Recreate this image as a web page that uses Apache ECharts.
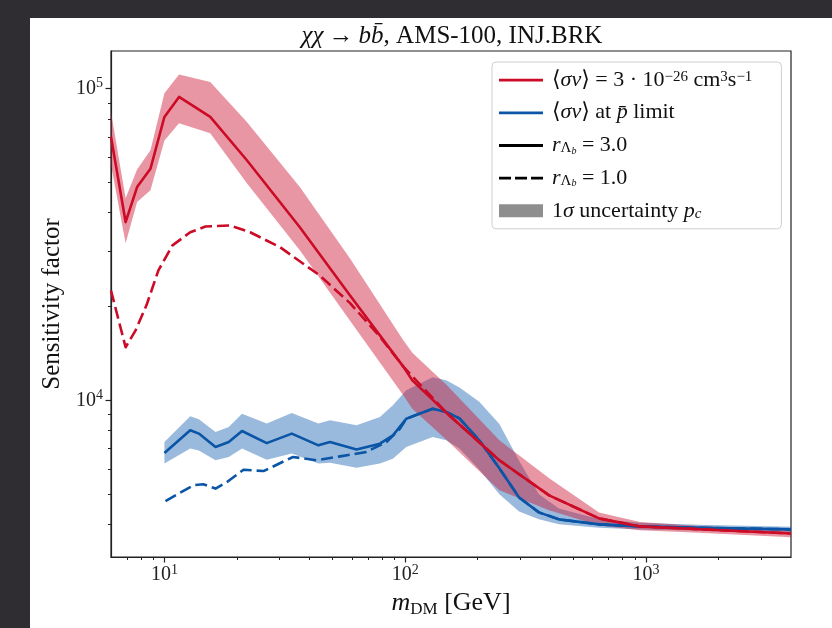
<!DOCTYPE html>
<html><head><meta charset="utf-8">
<script src="https://cdn.jsdelivr.net/npm/echarts@6/dist/echarts.min.js"></script>
<style>
html,body{margin:0;padding:0;background:#2f2d32;width:832px;height:628px;overflow:hidden;}
#panel{position:absolute;left:30px;top:18px;width:802px;height:610px;background:#ffffff;}
#chart{position:absolute;left:0;top:0;width:832px;height:628px;}
</style></head><body>
<div id="panel"></div>
<div id="chart"></div>
<script>
// ---- data ----
const redMass  = [6.0, 6.9, 7.7, 8.75, 10, 11.5, 15.5, 22, 36.5, 59, 98, 107, 149, 246, 396, 638, 944, 1657, 4000];
const redSolid = [70000, 37300, 48300, 55300, 81100, 94000, 81100, 58900, 35900, 21700, 12850, 11590, 9085, 6420, 4955, 4180, 3940, 3860, 3740];
const redUpper = [84000, 44500, 55000, 63400, 96600, 111000, 105000, 78200, 48300, 28500, 15600, 14200, 11170, 7440, 5620, 4370, 4070, 3950, 3830];
const redLower = [57000, 31900, 43300, 47200, 68200, 77400, 71900, 49700, 30300, 18000, 10400, 9400, 7440, 5150, 4440, 3970, 3830, 3760, 3640];

const redDashMass = [6.0, 6.9, 7.59, 8.42, 9.44, 10.8, 12.8, 14.8, 18.7, 22.7, 30.2, 44, 59, 78.5, 98, 149, 246, 396, 638, 944, 1657, 4000];
const redDash     = [22500, 14800, 16770, 20170, 26100, 31400, 34600, 36100, 36400, 34600, 31000, 25200, 20500, 16000, 12850, 9085, 6420, 4955, 4180, 3940, 3860, 3740];

const blueMass  = [10, 12.8, 13.9, 16.3, 18.5, 21, 26.6, 33.8, 43.6, 48.7, 62.8, 78.5, 88.9, 101, 130, 148, 168, 203, 246, 297, 359, 435, 638, 944, 1657, 4000];
const blueSolid = [6780, 8014, 7820, 7080, 7350, 7970, 7290, 7820, 7170, 7350, 6950, 7260, 7720, 8730, 9400, 9170, 8750, 7440, 6050, 4880, 4370, 4150, 4000, 3940, 3900, 3855];
const blueUpper = [7350, 8890, 8700, 7910, 8210, 9060, 8420, 9100, 8420, 8630, 8310, 8840, 9640, 10770, 11850, 11590, 11000, 9900, 8400, 6400, 5000, 4500, 4150, 4050, 3990, 3930];
const blueLower = [6270, 7000, 6900, 6420, 6580, 7000, 6450, 6750, 6270, 6300, 6080, 6270, 6500, 7080, 7620, 7440, 7000, 6000, 5000, 4400, 4150, 4000, 3900, 3850, 3820, 3780];

const blueDashMass = [10.1, 13.2, 14.5, 16.3, 18.2, 21.3, 25.8, 34.2, 42.8, 53.7, 69, 83.6, 95, 101, 130, 148, 168, 203, 246, 297, 359, 435, 638, 944, 1657, 4000];
const blueDash     = [4750, 5340, 5380, 5210, 5470, 5990, 5930, 6580, 6420, 6610, 6830, 7350, 8100, 8730, 9400, 9170, 8750, 7440, 6050, 4880, 4370, 4150, 4000, 3940, 3900, 3855];

const xMajorTicks = [10, 100, 1000];
const xMinorTicks = [7, 8, 9, 20, 30, 40, 50, 60, 70, 80, 90, 200, 300, 400, 500, 600, 700, 800, 900, 2000, 3000];
const yMajorTicks = [10000, 100000];
const yMinorTicks = [4000, 5000, 6000, 7000, 8000, 9000, 20000, 30000, 40000, 50000, 60000, 70000, 80000, 90000];

// ---- styling ----
const SERIF = '"Liberation Serif", "DejaVu Serif", serif';
const RED = '#cc0b26';
const RED_BAND = 'rgba(205,22,50,0.45)';
const BLUE = '#0a55a5';
const BLUE_BAND = 'rgba(29,101,177,0.45)';
const AX = '#222222';

// legend handle shapes (44 x 13 box)
const ICON_SOLID = 'path://M0,0h0.01v0.01h-0.01z M0,5.2h44v2.8h-44z M43.99,12.99h0.01v0.01h-0.01z';
const ICON_DASH  = 'path://M0,0h0.01v0.01h-0.01z M0,5.2h12v2.8h-12z M16,5.2h12v2.8h-12z M32,5.2h12v2.8h-12z M43.99,12.99h0.01v0.01h-0.01z';

function pairs(xs, ys) { return xs.map((x, i) => [x, ys[i]]); }

function band(mass, lower, upper, fill, z) {
  return {
    type: 'custom', coordinateSystem: 'cartesian2d', clip: true, silent: true, z: z,
    data: mass.map((m, i) => [m, lower[i], upper[i]]),
    encode: { x: 0, y: [1, 2] },
    renderItem: function (params, api) {
      if (params.dataIndex !== 0) return null;
      const pts = [];
      for (let i = 0; i < mass.length; i++) pts.push(api.coord([mass[i], upper[i]]));
      for (let i = mass.length - 1; i >= 0; i--) pts.push(api.coord([mass[i], lower[i]]));
      return { type: 'polygon', shape: { points: pts }, style: { fill: fill, stroke: null } };
    }
  };
}

function line(name, xs, ys, color, dashed, z) {
  return {
    name: name, type: 'line', data: pairs(xs, ys), symbol: 'none', showSymbol: false,
    silent: true, z: z, clip: true,
    lineStyle: { color: color, width: 2.6, type: dashed ? [12, 5] : 'solid', cap: 'butt', join: 'round' }
  };
}

function legendDummy(name, color) {
  return {
    name: name, type: 'line', data: [], symbol: 'none', color: color,
    lineStyle: { color: color, width: 3 }, itemStyle: { color: color }
  };
}

const tickRich = {
  b: { fontFamily: SERIF, fontSize: 20, color: '#222', lineHeight: 24 },
  s: { fontFamily: SERIF, fontSize: 14, color: '#222', lineHeight: 14, verticalAlign: 'top' }
};
function powFmt(v) {
  const e = Math.round(Math.log10(v));
  return '{b|10}{s|' + e + '}';
}

const LF = 22;
const lt = { fontFamily: SERIF, fontSize: LF, color: '#111', lineHeight: 21 };
const legendRich = {
  t: lt,
  i: Object.assign({}, lt, { fontStyle: 'italic' }),
  sup: { fontFamily: SERIF, fontSize: 15, color: '#111', lineHeight: 13, verticalAlign: 'top' },
  sub: { fontFamily: SERIF, fontSize: 15, color: '#111', lineHeight: 12, verticalAlign: 'bottom' },
  subi: { fontFamily: SERIF, fontSize: 15, color: '#111', lineHeight: 12, verticalAlign: 'bottom', fontStyle: 'italic' },
  subsub: { fontFamily: SERIF, fontSize: 10, color: '#111', lineHeight: 6, verticalAlign: 'bottom', fontStyle: 'italic' }
};
const legendLabels = {
  red: '{t|⟨}{i|σv}{t|⟩ = 3 · 10}{sup|−26}{t| cm}{sup|3}{t|s}{sup|−1}',
  blue: '{t|⟨}{i|σv}{t|⟩ at }{i|p̄}{t| limit}',
  r3: '{i|r}{sub|Λ}{subsub|b}{t| = 3.0}',
  r1: '{i|r}{sub|Λ}{subsub|b}{t| = 1.0}',
  unc: '{t|1}{i|σ}{t| uncertainty }{i|p}{subi|c}'
};

const chart = echarts.init(document.getElementById('chart'), null, { renderer: 'canvas' });
chart.setOption({
  backgroundColor: 'transparent',
  animation: false,
  title: {
    text: '{i|χχ} {t|→} {i|bb̄}{t|, AMS-100, INJ.BRK}',
    left: 447, top: 19, textAlign: 'center',
    textStyle: {
      fontWeight: 'normal',
      rich: {
        t: { fontFamily: SERIF, fontSize: 25, color: '#111', fontWeight: 'normal' },
        i: { fontFamily: SERIF, fontSize: 25, color: '#111', fontStyle: 'italic', fontWeight: 'normal' }
      }
    }
  },
  grid: { left: 111, right: 41, top: 51, bottom: 71, show: true, borderColor: AX, borderWidth: 1.2, backgroundColor: 'transparent' },
  xAxis: [{
    type: 'log', logBase: 10, min: 6, max: 4000, position: 'bottom',
    name: '{i|m}{sub|DM}{t| [GeV]}', nameLocation: 'middle', nameGap: 29,
    nameTextStyle: {
      rich: {
        t: { fontFamily: SERIF, fontSize: 26, color: '#111', lineHeight: 30 },
        i: { fontFamily: SERIF, fontSize: 26, color: '#111', fontStyle: 'italic', lineHeight: 30 },
        sub: { fontFamily: SERIF, fontSize: 17, color: '#111', verticalAlign: 'bottom', lineHeight: 17 }
      }
    },
    axisLine: { show: true, lineStyle: { color: AX, width: 1.2 } },
    axisTick: { show: true, customValues: xMajorTicks, length: 5.5, lineStyle: { color: AX, width: 1.2 } },
    axisLabel: { customValues: xMajorTicks, formatter: powFmt, rich: tickRich, margin: 6 },
    splitLine: { show: false }, minorTick: { show: false }
  }, {
    type: 'log', logBase: 10, min: 6, max: 4000, position: 'bottom',
    axisLine: { show: false },
    axisTick: { show: true, customValues: xMinorTicks, length: 3, lineStyle: { color: AX, width: 1 } },
    axisLabel: { show: false }, splitLine: { show: false }
  }],
  yAxis: [{
    type: 'log', logBase: 10, min: 3143, max: 132000, position: 'left',
    name: 'Sensitivity factor', nameLocation: 'middle', nameGap: 44,
    nameTextStyle: { fontFamily: SERIF, fontSize: 25, color: '#111' },
    axisLine: { show: true, lineStyle: { color: AX, width: 1.2 } },
    axisTick: { show: true, customValues: yMajorTicks, length: 5.5, lineStyle: { color: AX, width: 1.2 } },
    axisLabel: { customValues: yMajorTicks, formatter: powFmt, rich: tickRich, margin: 8 },
    splitLine: { show: false }
  }, {
    type: 'log', logBase: 10, min: 3143, max: 132000, position: 'left', offset: 0,
    axisLine: { show: false },
    axisTick: { show: true, customValues: yMinorTicks, length: 3, lineStyle: { color: AX, width: 1 } },
    axisLabel: { show: false }, splitLine: { show: false }
  }],
  legend: {
    orient: 'vertical', left: 492, top: 62,
    padding: [7, 29, 7, 7], itemGap: 10.7, itemWidth: 44, itemHeight: 13,
    borderColor: '#cfcfcf', borderWidth: 1, borderRadius: 4, backgroundColor: 'rgba(255,255,255,0.85)',
    selectedMode: false, symbolKeepAspect: false,
    data: [
      { name: 'red', icon: ICON_SOLID },
      { name: 'blue', icon: ICON_SOLID },
      { name: 'r3', icon: ICON_SOLID },
      { name: 'r1', icon: ICON_DASH },
      { name: 'unc', icon: 'rect' }
    ],
    formatter: function (n) { return legendLabels[n]; },
    textStyle: { rich: legendRich, padding: [0, 0, 0, 4] }
  },
  series: [
    band(blueMass, blueLower, blueUpper, BLUE_BAND, 1),
    band(redMass, redLower, redUpper, RED_BAND, 2),
    line('blueDash', blueDashMass, blueDash, BLUE, true, 3),
    line('blueSolid', blueMass, blueSolid, BLUE, false, 4),
    line('redDash', redDashMass, redDash, RED, true, 5),
    line('redSolid', redMass, redSolid, RED, false, 6),
    legendDummy('red', RED),
    legendDummy('blue', BLUE),
    legendDummy('r3', '#000000'),
    legendDummy('r1', '#000000'),
    legendDummy('unc', '#8e8e8e')
  ]
});
</script>
</body></html>
